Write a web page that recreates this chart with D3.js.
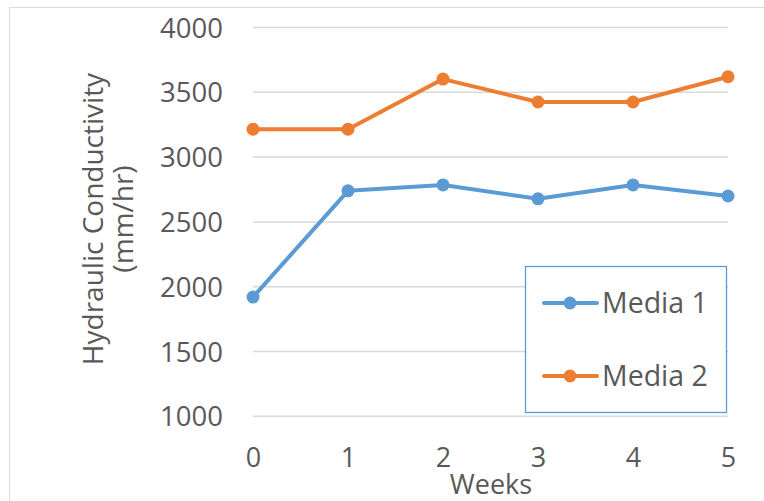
<!DOCTYPE html>
<html><head><meta charset="utf-8">
<script src="https://cdn.jsdelivr.net/npm/d3@7"></script>
<style>body{margin:0;background:#fff}svg{display:block}text{font-family:"Open Sans",sans-serif;fill:#595959}</style>
</head><body>
<svg id="c" width="764" height="501"></svg>
<script>
const weeks = [0, 1, 2, 3, 4, 5];
const media1 = [1920, 2740, 2785, 2678, 2785, 2700];
const media2 = [3215, 3215, 3602, 3425, 3425, 3620];
const yTicks = [1000, 1500, 2000, 2500, 3000, 3500, 4000];
const seriesNames = ["Media 1", "Media 2"];
const colors = ["#5B9BD5", "#ED7D31"];

const svg = d3.select("#c");
svg.append("rect").attr("x", 9.5).attr("y", 7.5).attr("width", 800).attr("height", 600)
  .attr("fill", "none").attr("stroke", "#D9D9D9");

const x = d3.scaleLinear().domain([0, 5]).range([253, 728]);
const y = d3.scaleLinear().domain([1000, 4000]).range([416.3, 27.5]);

// gridlines
svg.append("g").selectAll("line").data(yTicks).join("line")
  .attr("x1", 253).attr("x2", 728)
  .attr("y1", d => y(d)).attr("y2", d => y(d))
  .attr("stroke", "#D9D9D9").attr("stroke-width", 1.5);

// y axis labels
const ya = svg.append("g").attr("transform", "translate(223,0)")
  .call(d3.axisLeft(y).tickValues(yTicks).tickSize(0).tickPadding(0).tickFormat(d3.format("d")));
ya.select(".domain").remove();
ya.selectAll("text").style("font-size", "27.5px").attr("fill", "#595959").attr("font-family", "Open Sans").attr("dy", "0.35em");

// x axis labels
const xa = svg.append("g").attr("transform", "translate(0,448)")
  .call(d3.axisBottom(x).tickValues(weeks).tickSize(0).tickPadding(0).tickFormat(d3.format("d")));
xa.select(".domain").remove();
xa.selectAll("text").style("font-size", "27px").attr("fill", "#595959").attr("font-family", "Open Sans").attr("dy", "0.71em");

svg.append("text").attr("x", 491).attr("y", 494).attr("text-anchor", "middle")
  .style("font-size", "27px").text("Weeks");

const yt = svg.append("text").attr("transform", "translate(103,219) rotate(-90)")
  .attr("text-anchor", "middle").style("font-size", "28px");
yt.append("tspan").attr("x", 0).attr("dy", 0).text("Hydraulic Conductivity");
yt.append("tspan").attr("x", 0).attr("dy", 30).text("(mm/hr)");

const line = d3.line().x((d, i) => x(weeks[i])).y(d => y(d));
[media1, media2].forEach((s, k) => {
  svg.append("path").datum(s).attr("d", line).attr("fill", "none")
    .attr("stroke", colors[k]).attr("stroke-width", 4).attr("stroke-linejoin", "round");
  svg.append("g").selectAll("circle").data(s).join("circle")
    .attr("cx", (d, i) => x(weeks[i])).attr("cy", d => y(d)).attr("r", 6.5).attr("fill", colors[k]);
});

// legend
svg.append("rect").attr("x", 525.5).attr("y", 266.5).attr("width", 201).attr("height", 146)
  .attr("fill", "#fff").attr("stroke", "#5B9BD5").attr("stroke-width", 1.3);
const ly = [303, 376];
seriesNames.forEach((n, k) => {
  svg.append("line").attr("x1", 544).attr("x2", 597).attr("y1", ly[k]).attr("y2", ly[k])
    .attr("stroke", colors[k]).attr("stroke-width", 4).attr("stroke-linecap", "round");
  svg.append("circle").attr("cx", 570).attr("cy", ly[k]).attr("r", 6.5).attr("fill", colors[k]);
  svg.append("text").attr("x", 602).attr("y", ly[k]).attr("dy", "0.35em").style("font-size", "28.5px").text(n);
});
</script>
</body></html>
